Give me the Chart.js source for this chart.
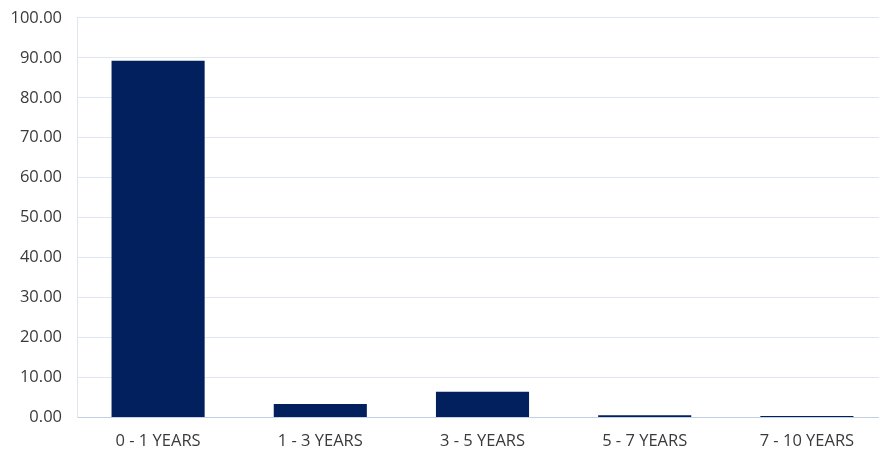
<!DOCTYPE html>
<html>
<head>
<meta charset="utf-8">
<script src="https://cdn.jsdelivr.net/npm/chart.js@4/dist/chart.umd.min.js"></script>
<style>
  html, body { margin: 0; padding: 0; background: #ffffff; overflow: hidden; }
  #wrap { width: 888px; height: 451px; position: relative; overflow: hidden; }
  #chart { position: absolute; left: 0; top: -7px; }
</style>
</head>
<body>
<div id="wrap"><canvas id="chart" width="888" height="458"></canvas></div>
<script>
// Maturity buckets and their share (%)
const categories = ['0 - 1 YEARS', '1 - 3 YEARS', '3 - 5 YEARS', '5 - 7 YEARS', '7 - 10 YEARS'];
const shares = [89.3, 3.4, 6.45, 0.55, 0.35];
const yTicks = [0, 10, 20, 30, 40, 50, 60, 70, 80, 90, 100];

const labelFont = { family: "'Open Sans', 'DejaVu Sans', sans-serif", size: 16.5 };

new Chart(document.getElementById('chart'), {
  type: 'bar',
  data: {
    labels: categories,
    datasets: [{
      data: shares,
      backgroundColor: '#03205e',
      borderWidth: 0,
      barPercentage: 0.574,
      categoryPercentage: 1
    }]
  },
  options: {
    responsive: false,
    animation: false,
    devicePixelRatio: 1,
    layout: { padding: { top: 12, left: 0, right: 0, bottom: 0 } },
    plugins: { legend: { display: false }, tooltip: { enabled: false } },
    scales: {
      x: {
        grid: { display: false, drawTicks: false },
        border: { display: true, color: '#c3cfe2', width: 1 },
        ticks: { color: '#3a3a3a', font: labelFont, padding: 14, maxRotation: 0 },
        afterFit: s => { s.height = 33.5; }
      },
      y: {
        min: 0,
        max: 100,
        afterBuildTicks: s => { s.ticks = yTicks.map(v => ({ value: v })); },
        grid: { color: '#dfe6ef', lineWidth: 1, drawTicks: false },
        border: { display: true, color: '#dfe6ef', width: 1 },
        ticks: {
          color: '#3a3a3a',
          font: labelFont,
          padding: 15,
          callback: v => Number(v).toFixed(2)
        },
        afterFit: s => { s.width = 77; }
      }
    }
  }
});
</script>
</body>
</html>
